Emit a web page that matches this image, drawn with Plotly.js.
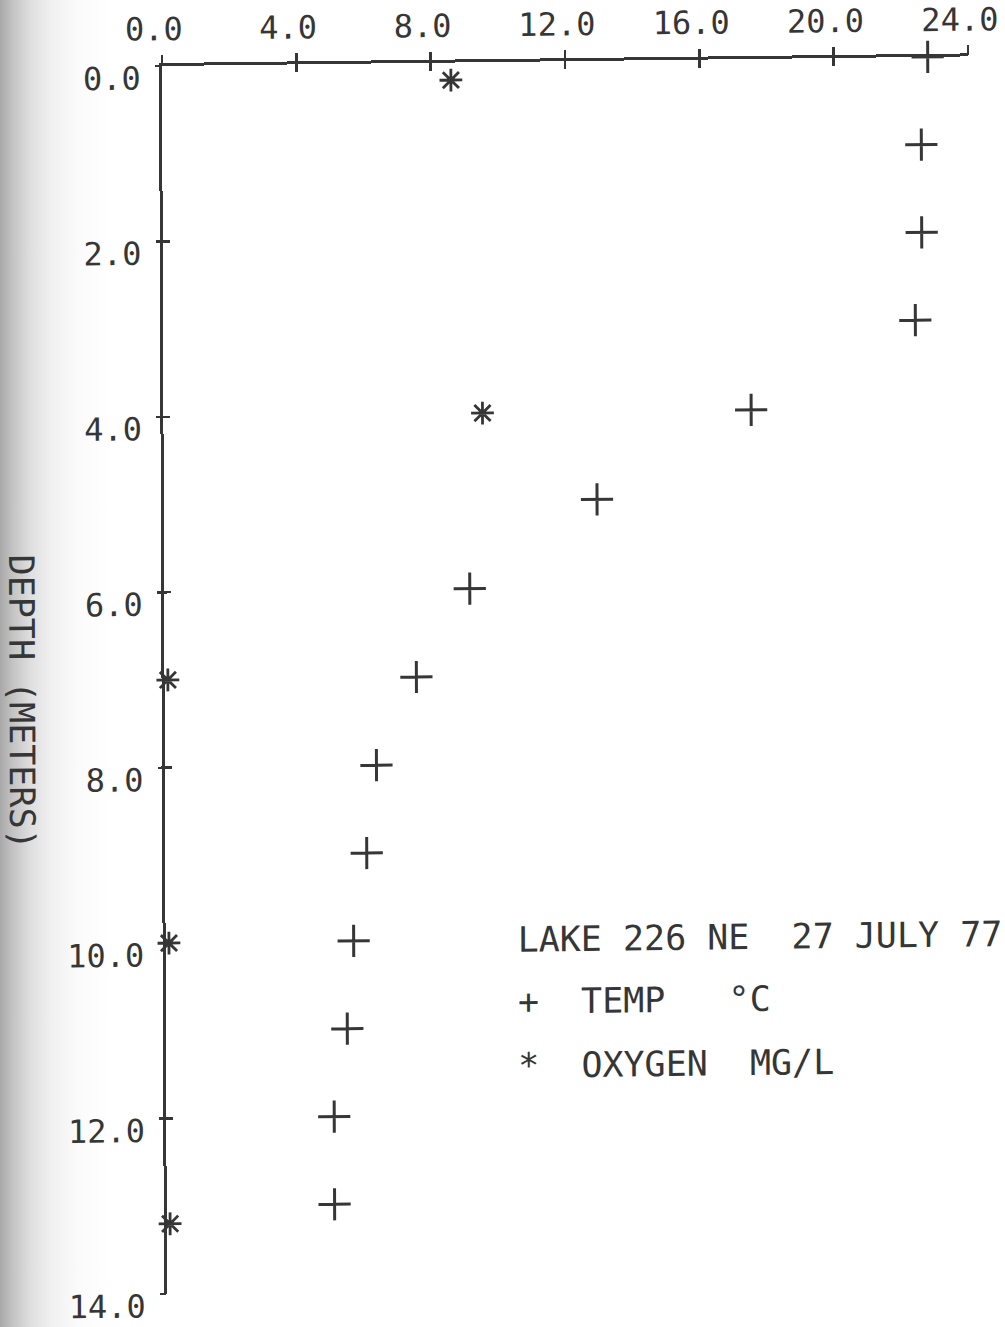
<!DOCTYPE html>
<html>
<head>
<meta charset="utf-8">
<script src="https://cdn.plot.ly/plotly-3.0.1.min.js"></script>
<style>
  html, body { margin: 0; padding: 0; width: 1005px; height: 1327px; overflow: hidden; }
  body {
    background: linear-gradient(to right, #a8a8a8 0px, #c2c2c2 12px, #dedede 30px, #f1f1f1 52px, #fbfbfb 80px, #ffffff 110px);
  }
  /* the plotter sheet sits slightly skewed on the page */
  #chart {
    width: 1005px; height: 1327px;
    transform-origin: 162px 66px;
    transform: matrix(1, -0.0119, 0.0041, 1, 0, 0);
  }
</style>
</head>
<body>
<div id="chart"></div>
<script>
// Lake 226 NE, 27 July 1977 - depth profile
const tempDepth = [0, 1, 2, 3, 4, 5, 6, 7, 8, 9, 10, 11, 12, 13];
const tempC     = [22.8, 22.6, 22.6, 22.4, 17.5, 12.9, 9.1, 7.5, 6.3, 6.0, 5.6, 5.4, 5.0, 5.0];

const oxyDepth  = [0.2, 4, 7, 10, 13.2];
const oxygenMgL = [8.6, 9.5, 0.1, 0.1, 0.1];

const xTickVals = [0, 4, 8, 12, 16, 20, 24];
const xTickText = ['0.0', '4.0', '8.0', '12.0', '16.0', '20.0', '24.0'];
const yTickVals = [0, 2, 4, 6, 8, 10, 12, 14];
const yTickText = ['0.0', '2.0', '4.0', '6.0', '8.0', '10.0', '12.0', '14.0'];

const headerText = 'LAKE 226 NE  27 JULY 77';
const tempLabel  = '+  TEMP   °C';
const oxyLabel   = '*  OXYGEN  MG/L';
const depthTitle = 'DEPTH (METERS)';

const ink = '#363636';
const mono = 'DejaVu Sans Mono, Liberation Mono, monospace';

// plot frame in page pixels
const L = 162, T = 66, W = 806, H = 1228;
const nb = (s) => s.replace(/ /g, '\u00a0');
const px = (x) => (x - L) / W;
const py = (y) => 1 - (y - T) / H;

const traces = [
  {
    x: tempC, y: tempDepth, type: 'scatter', mode: 'markers', name: 'TEMP',
    marker: { symbol: 'cross-thin-open', size: 23, color: ink, line: { color: ink, width: 3 } },
    cliponaxis: false, showlegend: false
  },
  {
    x: oxygenMgL, y: oxyDepth, type: 'scatter', mode: 'markers', name: 'OXYGEN',
    marker: { symbol: 'asterisk-open', size: 19, color: ink, line: { color: ink, width: 2.8 } },
    cliponaxis: false, showlegend: false
  },
  // carries the outer half of the crossing tick marks
  { x: [], y: [], xaxis: 'x2', yaxis: 'y2', type: 'scatter', mode: 'markers', showlegend: false, hoverinfo: 'skip' }
];

const annText = (text, x, y, extra) => Object.assign({
  text: nb(text), xref: 'paper', yref: 'paper', x: px(x), y: py(y),
  xanchor: 'left', yanchor: 'middle', showarrow: false, borderpad: 0,
  font: { family: mono, size: 35, color: ink }
}, extra || {});

const tickFont = { family: mono, size: 32, color: ink };

const layout = {
  width: 1005, height: 1327,
  margin: { l: L, r: 1005 - L - W, t: T, b: 1327 - T - H },
  paper_bgcolor: 'rgba(0,0,0,0)', plot_bgcolor: 'rgba(0,0,0,0)',
  showlegend: false,
  xaxis: {
    range: [0, 24], side: 'top', tickvals: xTickVals, ticktext: xTickText,
    ticks: 'inside', ticklen: 8, tickwidth: 2.5, tickcolor: ink,
    showline: true, linecolor: ink, linewidth: 3,
    showgrid: false, zeroline: false, ticklabelstandoff: 10, ticklabelshift: -8,
    ticklabeloverflow: 'allow', tickfont: tickFont
  },
  yaxis: {
    range: [14, 0], tickvals: yTickVals, ticktext: yTickText,
    ticks: 'inside', ticklen: 7, tickwidth: 2.5, tickcolor: ink,
    showline: true, linecolor: ink, linewidth: 3,
    showgrid: false, zeroline: false, ticklabelstandoff: 12, ticklabelshift: -12,
    ticklabeloverflow: 'allow', tickfont: tickFont
  },
  xaxis2: {
    overlaying: 'x', anchor: 'y2', side: 'top', range: [0, 24], tickvals: xTickVals,
    ticks: 'outside', ticklen: 10, tickwidth: 2.5, tickcolor: ink,
    showticklabels: false, showline: false, showgrid: false, zeroline: false
  },
  yaxis2: {
    overlaying: 'y', anchor: 'x2', side: 'left', range: [14, 0], tickvals: yTickVals,
    ticks: 'outside', ticklen: 6, tickwidth: 2.5, tickcolor: ink,
    showticklabels: false, showline: false, showgrid: false, zeroline: false
  },
  annotations: [
    annText(headerText, 513, 944),
    annText(tempLabel, 513, 1006),
    annText(oxyLabel, 513, 1070),
    annText(depthTitle, 19, 700, { xanchor: 'center', textangle: 90 })
  ]
};

Plotly.newPlot('chart', traces, layout, { staticPlot: true, displayModeBar: false });
</script>
</body>
</html>
